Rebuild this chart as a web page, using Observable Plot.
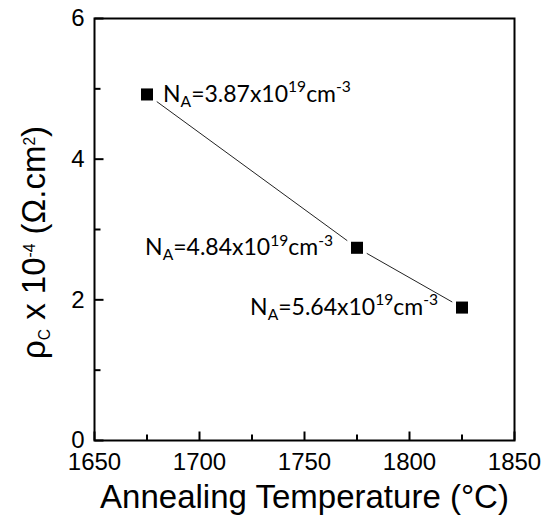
<!DOCTYPE html>
<html>
<head>
<meta charset="utf-8">
<script src="https://cdn.jsdelivr.net/npm/d3@7"></script>
<script src="https://cdn.jsdelivr.net/npm/@observablehq/plot@0.6"></script>
<style>
  html, body { margin: 0; padding: 0; background: white; }
</style>
</head>
<body>
<div id="chart"></div>
<script>
// ---- data ----
const temperatures = [1675, 1775, 1825];           // Annealing temperature (°C)
const resistivity = [4.92, 2.74, 1.89];            // ρC x 10^-4 (Ω.cm²)
const dopingNA = ["3.87", "4.84", "5.64"];         // N_A x 10^19 cm^-3
const labelSide = ["right", "left", "left"];

const xMajorTicks = [1650, 1700, 1750, 1800, 1850];
const xMinorTicks = [1675, 1725, 1775, 1825];
const yMajorTicks = [0, 2, 4, 6];
const yMinorTicks = [1, 3, 5];

const xTitle = "Annealing Temperature (°C)";
const yTitle = "ρ_{C} x 10^{-4} (Ω.cm^{2})";

const data = temperatures.map((t, i) => ({
  t, r: resistivity[i], na: dopingNA[i], side: labelSide[i],
  label: `N_{A}=${dopingNA[i]}x10^{19}cm^{-3}`
}));

const labelFont = "Lato, 'Open Sans', sans-serif";
const labelSize = 23;
const xMin = xMajorTicks[0], yMin = yMajorTicks[0];

// inward tick symbols (custom symbols for Plot.dot)
const tickUp = len => ({draw(ctx) { ctx.moveTo(0, 0); ctx.lineTo(0, -len); }});
const tickRight = len => ({draw(ctx) { ctx.moveTo(0, 0); ctx.lineTo(len, 0); }});
const tickStyle = {r: 1, fill: "none", stroke: "black", strokeWidth: 2};

const svg = Plot.plot({
  width: 550,
  height: 523,
  marginLeft: 94,
  marginRight: 36,
  marginTop: 18,
  marginBottom: 83,
  style: {fontFamily: "'Liberation Sans', Arial, sans-serif", fontSize: "24px", background: "white", color: "black"},
  x: {domain: [1650, 1850]},
  y: {domain: [0, 6]},
  marks: [
    Plot.axisX({ticks: xMajorTicks, tickSize: 0, tickPadding: 12, fontSize: 24, label: null, tickFormat: d3.format("d")}),
    Plot.axisY({ticks: yMajorTicks, tickSize: 0, tickPadding: 10, fontSize: 24, label: null, tickFormat: d3.format("d")}),
    Plot.frame({stroke: "black", strokeWidth: 2}),
    Plot.dot(xMajorTicks, {x: d => d, y: yMin, symbol: tickUp(9), ...tickStyle}),
    Plot.dot(xMinorTicks, {x: d => d, y: yMin, symbol: tickUp(6), ...tickStyle}),
    Plot.dot(yMajorTicks, {x: xMin, y: d => d, symbol: tickRight(9), ...tickStyle}),
    Plot.dot(yMinorTicks, {x: xMin, y: d => d, symbol: tickRight(6), ...tickStyle}),
    Plot.line(data, {x: "t", y: "r", stroke: "#222", strokeWidth: 1}),
    Plot.dot(data, {x: "t", y: "r", symbol: "square", r: 11, fill: "white"}),
    Plot.dot(data, {x: "t", y: "r", symbol: "square", r: 6.8, fill: "black"}),
    Plot.text(data.filter(d => d.side === "right"), {x: "t", y: "r", text: "label", textAnchor: "start", dx: 16,
      fontSize: labelSize, fontFamily: labelFont, fill: "black"}),
    Plot.text(data.filter(d => d.side === "left"), {x: "t", y: "r", text: "label", textAnchor: "end", dx: -24,
      fontSize: labelSize, fontFamily: labelFont, fill: "black"}),
    Plot.text([xTitle], {frameAnchor: "bottom", text: d => d, textAnchor: "middle", lineAnchor: "bottom", dy: 67, fontSize: 33, fill: "black"}),
    Plot.text([yTitle], {frameAnchor: "left", text: d => d, textAnchor: "middle", lineAnchor: "bottom", rotate: -90, dx: -50, dy: 13, fontSize: 33, fill: "black"})
  ]
});

// rich text: _{..} subscript, ^{..} superscript
function parseRich(s) {
  const parts = [];
  const re = /([_^])\{([^}]*)\}/g;
  let last = 0, m;
  while ((m = re.exec(s)) !== null) {
    if (m.index > last) parts.push({type: null, text: s.slice(last, m.index)});
    parts.push({type: m[1] === "_" ? "sub" : "sup", text: m[2]});
    last = re.lastIndex;
  }
  if (last < s.length) parts.push({type: null, text: s.slice(last)});
  return parts;
}

d3.select(svg).selectAll("text").each(function() {
  const s = this.textContent;
  if (!/[_^]\{/.test(s)) return;
  const el = d3.select(this);
  const fs = parseFloat(el.attr("font-size")) || parseFloat(getComputedStyle(this).fontSize) || 24;
  el.text(null);
  let shift = 0;
  for (const p of parseRich(s)) {
    const target = p.type === "sub" ? 0.22 * fs : p.type === "sup" ? -0.4 * fs : 0;
    const t = el.append("tspan").text(p.text);
    if (target - shift !== 0) t.attr("dy", target - shift);
    if (p.type) t.attr("font-size", 0.65 * fs);
    shift = target;
  }
});

document.getElementById("chart").appendChild(svg);
</script>
</body>
</html>
